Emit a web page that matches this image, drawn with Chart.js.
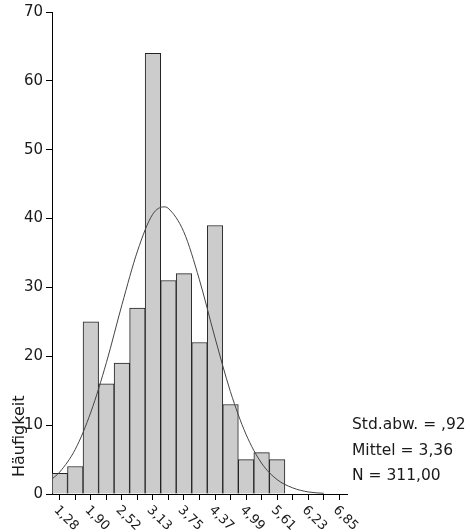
<!DOCTYPE html>
<html>
<head>
<meta charset="utf-8">
<script src="https://cdn.jsdelivr.net/npm/chart.js@4.4.1/dist/chart.umd.min.js"></script>
<style>
  html, body { margin: 0; padding: 0; background: #fff; }
</style>
</head>
<body>
<canvas id="myChart" width="469" height="532"></canvas>
<script>
// Histogram bins (centre of each class) and their counts
const categories = ["1,28", "1,59", "1,90", "2,21", "2,52", "2,83", "3,13", "3,44", "3,75", "4,06",
                    "4,37", "4,68", "4,99", "5,30", "5,61", "5,92", "6,23", "6,54", "6,85"];
const counts = [3, 4, 25, 16, 19, 27, 64, 31, 32, 22, 39, 13, 5, 6, 5, 0, 0, 0, 0];

// Normal curve
const curveX = [1.13, 1.28, 1.59, 1.90, 2.21, 2.52, 2.83, 3.13, 3.36, 3.44, 3.75, 4.06,
                4.37, 4.68, 4.99, 5.30, 5.61, 5.92, 6.23, 6.54];
const curveY = [2.2, 3.2, 6.5, 11.9, 19.1, 27.5, 35.3, 40.6, 41.7, 41.5, 38.1, 31.2,
                22.8, 14.9, 8.7, 4.5, 2.1, 0.9, 0.3, 0.1];

const yTicks = [0, 10, 20, 30, 40, 50, 60, 70];
const yTitle = "Häufigkeit";
const statLines = ["Std.abw. = ,92", "Mittel = 3,36", "N = 311,00"];

const FONT = "'DejaVu Sans', sans-serif";
const ctx = document.getElementById("myChart").getContext("2d");

// draws the rotated x labels, the y title and the stats block
const extraText = {
  id: "extraText",
  afterDraw(c) {
    const g = c.ctx;
    const x = c.scales.x;
    g.save();
    g.fillStyle = "#1a1a1a";

    g.font = "13px " + FONT;
    g.textAlign = "left";
    g.textBaseline = "middle";
    categories.forEach((lab, i) => {
      if (i % 2) return;
      g.save();
      g.translate(x.getPixelForTick(i) - 4, x.top + 14);
      g.rotate(Math.PI / 4);
      g.fillText(lab, 0, 0);
      g.restore();
    });

    g.font = "16px " + FONT;
    g.textBaseline = "alphabetic";
    g.save();
    g.translate(24, 477);
    g.rotate(-Math.PI / 2);
    g.fillText(yTitle, 0, 0);
    g.restore();

    g.font = "15.5px " + FONT;
    [429, 455, 480].forEach((y, i) => g.fillText(statLines[i], 352, y));
    g.restore();
  }
};

new Chart(ctx, {
  type: "bar",
  data: {
    labels: categories,
    datasets: [
      {
        type: "line",
        data: curveX.map((v, i) => ({ x: v, y: curveY[i] })),
        xAxisID: "xc",
        borderColor: "#444",
        borderWidth: 1,
        pointRadius: 0,
        cubicInterpolationMode: "monotone",
        fill: false,
        order: 0
      },
      {
        type: "bar",
        data: counts,
        xAxisID: "x",
        grouped: false,
        backgroundColor: "#cccccc",
        borderColor: "#222",
        borderWidth: 1,
        barPercentage: 1,
        categoryPercentage: 1,
        order: 1
      }
    ]
  },
  options: {
    responsive: false,
    animation: false,
    layout: { padding: { top: 12, right: 122, bottom: 32, left: 0 } },
    plugins: { legend: { display: false }, tooltip: { enabled: false } },
    scales: {
      x: {
        type: "category",
        offset: true,
        grid: { display: true, drawOnChartArea: false, drawTicks: true, tickLength: 6, color: "#000", offset: false },
        border: { display: true, color: "#000", width: 1 },
        ticks: { display: false }
      },
      xc: {
        type: "linear",
        display: false,
        offset: false,
        min: 1.1253,
        max: 7.0047
      },
      y: {
        min: yTicks[0],
        max: yTicks[yTicks.length - 1],
        afterFit: (s) => { s.width = 52; },
        afterBuildTicks: (s) => { s.ticks = yTicks.map(v => ({ value: v })); },
        grid: { display: true, drawOnChartArea: false, drawTicks: true, tickLength: 6, color: "#000" },
        border: { display: true, color: "#000", width: 1 },
        ticks: { padding: 3, color: "#1a1a1a", font: { family: FONT, size: 15 } }
      }
    }
  },
  plugins: [extraText]
});
</script>
</body>
</html>
